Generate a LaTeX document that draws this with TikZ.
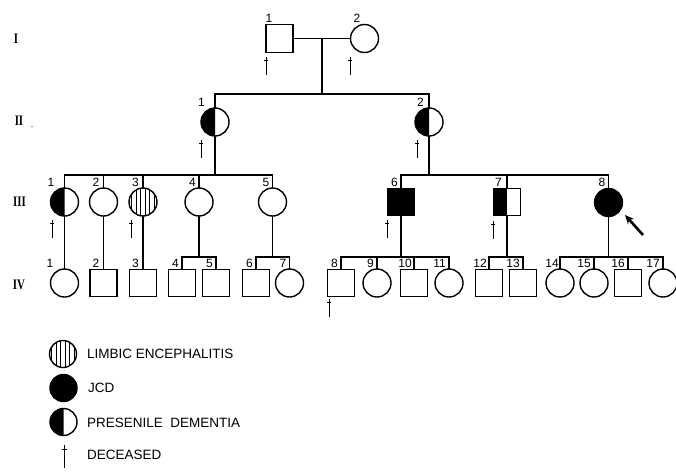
\documentclass[tikz,border=0pt]{standalone}
\usepackage{fontspec}
\setmainfont{Liberation Sans}
\newfontfamily\genfont{Liberation Serif}
\usetikzlibrary{arrows.meta,calc}
\newcommand\halffill[2]{\begin{scope}\clip ($(#1.center)+(-20,-20)$) rectangle ($(#1.center)+(0,20)$); \fill (#1.center) circle[radius=#2];\end{scope}}
\newcommand\stripefill[2]{\begin{scope}\clip (#1.center) circle[radius=#2]; \foreach \d in {-11.25,-6.75,-2.25,2.25,6.75,11.25} {\draw[line width=0.9pt] ($(#1.center)+(\d,-15)$) -- ++(0,30);}\end{scope}}
\begin{document}
\begin{tikzpicture}[x=1pt,y=-1pt,
  ped/.style={line width=1.5pt},
  person/.style={draw, line width=1.4pt, inner sep=0pt, outer sep=0pt},
  fem/.style={person, circle, minimum size=28pt},
  mal/.style={person, rectangle, minimum width=27pt, minimum height=27pt},
  num/.style={font=\fontsize{12}{12}\selectfont, inner sep=0pt, anchor=base east},
  gen/.style={font=\genfont\bfseries\fontsize{14.5}{14.5}\selectfont, inner sep=0pt},
  legtxt/.style={font=\fontsize{13.5}{14}\selectfont, anchor=west, inner sep=0pt},
  arr/.style={line width=2.6pt, -{Stealth[length=9pt, width=8pt]}},
  dagger/.pic={\draw[line width=1pt] (0,0) -- (0,18); \draw[line width=0.9pt] (-2,3.5) -- (2,3.5);},
]
\useasboundingbox (0,0) rectangle (676,471);
\clip (0,0) rectangle (676,471);

% generation labels
\node[gen] (gI) at (16,39) {\scalebox{0.75}[1]{I}};
\node[gen] (gII) at (19,121) {\scalebox{0.75}[1]{II}};
\node[inner sep=0pt, font=\fontsize{9}{9}\selectfont] (gdot) at (32,127) {.};
\node[gen] (gIII) at (19.5,202) {\scalebox{0.75}[1]{III}};
\node[gen] (gIV) at (19,285) {\scalebox{0.75}[1]{IV}};

% generation I
\node[mal, minimum height=28pt] (a1) at (279.5,38.5) {};
\node[fem] (a2) at (364.5,38.5) {};
\coordinate (mI) at (322,38.5);
\coordinate (barII) at (322,94);
\draw[ped] (a1) -- (a2);
\draw[ped] (mI) -- (barII);

% generation II
\node[fem] (b1) at (215,122) {};
\node[fem] (b2) at (429,122) {};
\halffill{b1}{14pt}
\halffill{b2}{14pt}
\draw[ped] (b1.north) -- (b1.north |- barII) -- (b2.north |- barII) -- (b2.north);

% generation III
\coordinate (barIII) at (0,175);
\node[fem] (c1) at (64.5,202) {};
\node[fem] (c2) at (103.5,202) {};
\node[fem] (c3) at (143,202) {};
\node[fem] (c4) at (199,202) {};
\node[fem] (c5) at (272.5,202) {};
\node[mal, fill=black] (c6) at (401,202) {};
\node[mal] (c7) at (507,202) {};
\node[fem, fill=black] (c8) at (608.5,202.5) {};
\halffill{c1}{14pt}
\stripefill{c3}{14pt}
\fill (c7.north west) rectangle (c7.south);
\draw[ped] (c1.north) -- (c1.north |- barIII) -- (c5.north |- barIII) -- (c5.north);
\foreach \c in {c2,c3,c4} {\draw[ped] (\c.north) -- (\c.north |- barIII);}
\draw[ped] (b1.south) -- (b1.south |- barIII);
\draw[ped] (c6.north) -- (c6.north |- barIII) -- (c8.north |- barIII) -- (c8.north);
\draw[ped] (c7.north) -- (c7.north |- barIII);
\draw[ped] (b2.south) -- (b2.south |- barIII);

% generation IV
\coordinate (barIV) at (0,257);
\node[fem] (d1) at (64.5,283) {};
\node[mal] (d2) at (103.5,283) {};
\node[mal] (d3) at (143,283) {};
\node[mal] (d4) at (182,283) {};
\node[mal] (d5) at (216,283) {};
\node[mal] (d6) at (256,283) {};
\node[fem] (d7) at (289.5,283) {};
\node[mal] (d8) at (341,283) {};
\node[fem] (d9) at (377,283) {};
\node[mal] (d10) at (414,283) {};
\node[fem] (d11) at (449,283) {};
\node[mal] (d12) at (489,283) {};
\node[mal] (d13) at (523,283) {};
\node[fem] (d14) at (560,283) {};
\node[fem] (d15) at (594,283) {};
\node[mal] (d16) at (628,283) {};
\node[fem] (d17) at (663,283) {};

\draw[ped] (c1) -- (d1);
\draw[ped] (c2) -- (d2);
\draw[ped] (c3) -- (d3);
\draw[ped] (c4.south) -- (c4.south |- barIV);
\draw[ped] (d4.north) -- (d4.north |- barIV) -- (d5.north |- barIV) -- (d5.north);
\draw[ped] (c5.south) -- (c5.south |- barIV);
\draw[ped] (d6.north) -- (d6.north |- barIV) -- (d7.north |- barIV) -- (d7.north);
\draw[ped] (c6.south) -- (c6.south |- barIV);
\draw[ped] (d8.north) -- (d8.north |- barIV) -- (d11.north |- barIV) -- (d11.north);
\foreach \c in {d9,d10} {\draw[ped] (\c.north) -- (\c.north |- barIV);}
\draw[ped] (c7.south) -- (c7.south |- barIV);
\draw[ped] (d12.north) -- (d12.north |- barIV) -- (d13.north |- barIV) -- (d13.north);
\draw[ped] (c8.south) -- (c8.south |- barIV);
\draw[ped] (d14.north) -- (d14.north |- barIV) -- (d17.north |- barIV) -- (d17.north);
\foreach \c in {d15,d16} {\draw[ped] (\c.north) -- (\c.north |- barIV);}

% number labels
\foreach \n/\t/\dx in {a1/1/-7,a2/2/-4,b1/1/-10,b2/2/-5,
  c1/1/-10,c2/2/-4,c3/3/-4,c4/4/-3,c5/5/-3,c6/6/-3,c7/7/-5,c8/8/-3,
  d1/1/-11,d2/2/-4,d3/3/-4,d4/4/-3,d5/5/-3,d6/6/-3,d7/7/-3,d8/8/-3,d9/9/-3,
  d10/10/-2,d11/11/-3,d12/12/-2,d13/13/-3,d14/14/-1,d15/15/-3,d16/16/-3,d17/17/-3}
  {\node[num] (l\n) at ([xshift=\dx pt, yshift=2pt]\n.north) {\t};}

% deceased marks
\pic at (266,57) {dagger};
\pic at (350,57) {dagger};
\pic at (201,140) {dagger};
\pic at (417,140) {dagger};
\pic at (52,220) {dagger};
\pic at (131,220) {dagger};
\pic at (387,220) {dagger};
\pic at (493,221) {dagger};
\pic at (329,299) {dagger};

% proband arrow
\coordinate (arT) at (643,235);
\coordinate (arH) at (625,215);
\draw[arr] (arT) -- (arH);

% legend
\node[fem, minimum size=27pt] (L1) at (63,354) {};
\stripefill{L1}{13.5pt}
\node[fem, minimum size=27pt, fill=black] (L2) at (63.5,388) {};
\node[fem, minimum size=27pt] (L3) at (63.5,422) {};
\halffill{L3}{13.5pt}
\draw[line width=1pt] (64,445) -- (64,468);
\draw[line width=0.9pt] (61.5,449) -- (66.5,449);
\node[legtxt] (t1) at (87,354) {LIMBIC ENCEPHALITIS};
\node[legtxt] (t2) at (88,388) {JCD};
\node[legtxt] (t3) at (87,423) {PRESENILE\ \ DEMENTIA};
\node[legtxt] (t4) at (87,455) {DECEASED};
\end{tikzpicture}
\end{document}
